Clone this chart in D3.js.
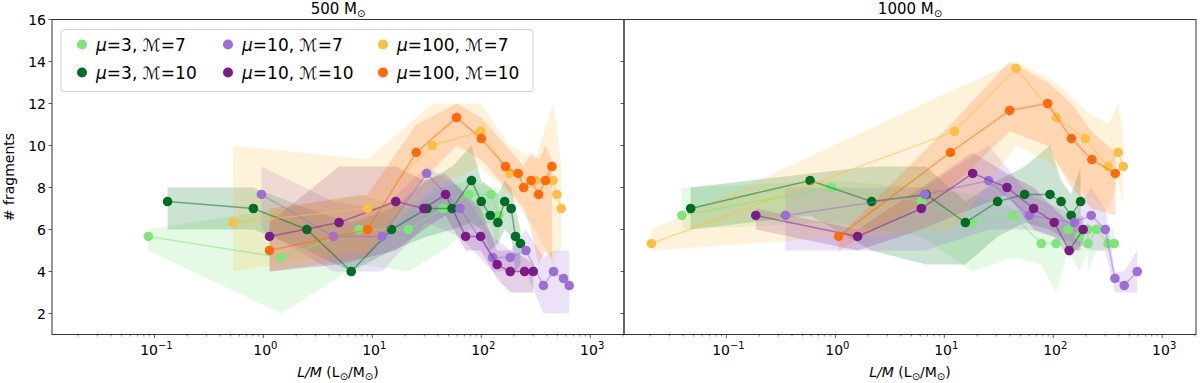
<!DOCTYPE html>
<meta charset="utf-8">
<script src="https://d3js.org/d3.v7.min.js"></script>
<style>
  body { margin: 0; background: #fff; }
  text { font-family: "DejaVu Sans", sans-serif; fill: #000; }
</style>
<div id="chart"></div>
<script>

// rows: [L/M, # fragments, lower, upper]
// --- 500 Msun ---
var mu3M7_500 = [[0.088, 5.67, 5.0, 6.0], [1.46, 4.67, 2.0, 7.0], [7.55, 6.0, 4.33, 7.67], [21.4, 6.0, 4.0, 7.0],
  [44.5, 7.0, 5.0, 8.0], [77.1, 7.67, 6.0, 8.33], [122.7, 7.67, 6.33, 8.0], [145, 6.67, 5.0, 8.0]];
var mu3M10_500 = [[0.132, 7.33, 6.0, 8.0], [0.81, 7.0, 6.0, 8.0], [2.51, 6.0, 5.0, 7.0], [6.4, 4.0, 4.0, 6.33],
  [15, 6.0, 5.0, 7.0], [31.8, 7.0, 5.67, 8.33], [54, 7.0, 6.0, 9.0], [81.3, 8.33, 6.33, 10.0], [100, 7.33, 6.0, 8.33],
  [121, 6.67, 5.0, 8.0], [142, 6.33, 5.33, 7.67], [164, 7.33, 6.0, 8.33], [188, 7.0, 5.67, 8.0], [206, 5.67, 4.0, 7.0],
  [229, 5.33, 4.33, 6.0]];
var mu10M7_500 = [[0.96, 7.67, 6.0, 9.0], [4.39, 5.67, 4.0, 7.33], [12.3, 5.67, 4.0, 7.0], [31.5, 8.67, 6.33, 9.0],
  [63.8, 7.0, 5.67, 8.0], [127, 4.67, 4.0, 5.67], [184.6, 4.67, 4.0, 5.0], [257, 5.0, 4.0, 6.0], [372, 3.33, 2.0, 4.67],
  [460, 4.0, 2.0, 5.0], [569, 3.67, 2.0, 5.0], [641, 3.33, 2.0, 5.0]];
var mu10M10_500 = [[1.14, 5.67, 4.0, 6.33], [4.95, 6.33, 4.33, 9.0], [16.4, 7.33, 5.0, 9.0], [29.7, 7.0, 6.0, 8.33],
  [47, 7.67, 6.67, 8.67], [71.8, 5.67, 5.0, 7.67], [98.6, 5.67, 5.0, 7.0], [140, 4.33, 3.67, 5.0], [184.6, 4.0, 3.0, 5.0],
  [249.6, 4.0, 3.0, 4.67], [300, 4.0, 3.0, 4.33]];
var mu100M7_500 = [[0.527, 6.33, 4.0, 10.0], [9.06, 7.0, 5.0, 9.33], [35.7, 10.0, 8.0, 12.0], [98.6, 10.67, 9.0, 12.0],
  [182, 8.67, 7.67, 10.0], [315, 8.33, 6.0, 9.33], [455, 8.33, 4.33, 12.0], [494, 7.67, 5.0, 11.0], [542, 7.0, 5.0, 9.0]];
var mu100M10_500 = [[1.14, 5.0, 4.0, 7.0], [9.06, 6.0, 4.67, 7.67], [25.3, 9.67, 8.0, 11.0], [59.4, 11.33, 10.0, 12.0],
  [100, 10.33, 9.33, 11.33], [167, 9.0, 8.0, 10.0], [218, 8.67, 7.33, 9.33], [245, 8.0, 7.0, 9.0], [287, 8.33, 6.0, 9.67],
  [336, 7.67, 4.33, 9.33], [389, 8.33, 5.0, 10.0], [445, 9.0, 4.67, 9.33]];

// --- 1000 Msun ---
var mu3M7_1000 = [[0.039, 6.67, 6.0, 8.0], [0.92, 8.0, 6.33, 8.33], [6.15, 7.33, 5.67, 8.0], [18, 6.33, 4.0, 7.67],
  [43, 6.67, 4.67, 7.0], [77.6, 5.33, 4.33, 6.33], [106, 5.33, 3.0, 6.0], [137, 6.0, 5.0, 6.33], [174, 5.67, 4.0, 6.0],
  [206.5, 6.0, 5.0, 6.33], [209, 5.33, 4.0, 6.0], [248, 6.0, 5.0, 6.33], [318, 5.33, 5.0, 6.0], [363, 5.33, 5.0, 6.0]];
var mu3M10_1000 = [[0.047, 7.0, 6.0, 8.0], [0.586, 8.33, 6.67, 8.67], [2.15, 7.33, 5.0, 9.0], [6.8, 7.67, 4.33, 9.0],
  [15.6, 6.33, 4.33, 7.33], [30.8, 7.33, 5.67, 8.33], [54.6, 7.67, 6.33, 9.0], [93.3, 7.67, 6.0, 10.0],
  [118, 7.33, 5.67, 8.33], [146, 6.67, 5.0, 7.67], [178, 7.33, 5.0, 9.0]];
var mu10M7_1000 = [[0.348, 6.67, 5.0, 8.0], [6.6, 7.67, 5.0, 8.0], [25.5, 8.33, 6.0, 10.0], [60.2, 6.67, 6.0, 7.67],
  [156, 6.33, 5.33, 6.67], [223, 6.67, 5.0, 8.0], [300, 6.0, 5.0, 7.0], [368, 3.67, 3.0, 4.0], [448, 3.33, 3.0, 4.0],
  [590, 4.0, 3.0, 5.0]];
var mu10M10_1000 = [[0.186, 6.67, 6.0, 7.0], [1.6, 5.67, 5.0, 6.0], [6.15, 7.0, 6.0, 8.0], [18.2, 8.67, 7.0, 9.67],
  [37.6, 8.0, 7.67, 8.67], [66, 7.0, 6.0, 8.0], [102, 6.33, 5.67, 7.0], [140, 5.0, 4.67, 6.33], [188, 6.0, 5.33, 6.67]];
var mu100M7_1000 = [[0.0205, 5.33, 5.0, 6.0], [12.4, 10.67, 6.0, 12.67], [45.5, 13.67, 10.0, 14.0], [107, 11.33, 9.0, 13.0],
  [197, 10.33, 7.67, 11.67], [318, 9.0, 7.0, 11.0], [394, 9.67, 8.33, 12.0], [439, 9.0, 7.0, 10.67]];
var mu100M10_1000 = [[1.07, 5.67, 5.0, 5.67], [11.4, 9.67, 8.0, 11.0], [39.8, 11.67, 10.67, 14.0], [88.7, 12.0, 10.0, 13.0],
  [147, 10.33, 8.0, 12.0], [226, 9.33, 7.0, 10.67], [371, 8.67, 6.67, 9.67]];

var panelMasses = ["500", "1000"];
var seriesMu = ["3", "3", "10", "10", "100", "100"];
var seriesMach = ["7", "10", "7", "10", "7", "10"];
var seriesColors = ["#7fe57a", "#006d22", "#9c6fd6", "#7b1b85", "#fbbf45", "#ff6a0d"];
var panelData = [
  [mu3M7_500, mu3M10_500, mu10M7_500, mu10M10_500, mu100M7_500, mu100M10_500],
  [mu3M7_1000, mu3M10_1000, mu10M7_1000, mu10M10_1000, mu100M7_1000, mu100M10_1000]
];
var xMajor = [0.1, 1, 10, 100, 1000];
var xSup = ["\u22121", "0", "1", "2", "3"];
var yTicks = [2, 4, 6, 8, 10, 12, 14, 16];

var W = 1200, H = 383;
var margin = { top: 19.5, right: 4, bottom: 48.5, left: 52 };
var panelW = (W - margin.left - margin.right) / 2;
var plotH = H - margin.top - margin.bottom;

var svg = d3.select("#chart").append("svg")
  .attr("width", W).attr("height", H);

var x = d3.scaleLog().domain([Math.pow(10, -1.94), Math.pow(10, 3.31)]).range([0, panelW]);
var y = d3.scaleLinear().domain([1, 16]).range([plotH, 0]);

panelMasses.forEach(function (mass, p) {
  var g = svg.append("g")
    .attr("transform", "translate(" + (margin.left + p * panelW) + "," + margin.top + ")");

  var clip = "clip" + p;
  g.append("clipPath").attr("id", clip).append("rect")
    .attr("width", panelW).attr("height", plotH);
  var plot = g.append("g").attr("clip-path", "url(#" + clip + ")");

  var area = d3.area()
    .x(function (d) { return x(d[0]); })
    .y0(function (d) { return y(d[2]); })
    .y1(function (d) { return y(d[3]); });
  var line = d3.line()
    .x(function (d) { return x(d[0]); })
    .y(function (d) { return y(d[1]); });

  panelData[p].forEach(function (rows, i) {
    plot.append("path").datum(rows)
      .attr("fill", seriesColors[i]).attr("fill-opacity", 0.2)
      .attr("d", area);
  });
  panelData[p].forEach(function (rows, i) {
    plot.append("path").datum(rows)
      .attr("fill", "none").attr("stroke", seriesColors[i])
      .attr("stroke-opacity", 0.5).attr("stroke-width", 1.5)
      .attr("d", line);
    plot.selectAll(null).data(rows).enter().append("circle")
      .attr("cx", function (d) { return x(d[0]); })
      .attr("cy", function (d) { return y(d[1]); })
      .attr("r", 4.8)
      .attr("fill", seriesColors[i]);
  });

  // x axis ticks
  var minor = x.ticks().filter(function (v) {
    var l = Math.log10(v); return Math.abs(l - Math.round(l)) > 1e-6;
  });
  g.selectAll(null).data(minor).enter().append("line")
    .attr("x1", function (d) { return x(d); }).attr("x2", function (d) { return x(d); })
    .attr("y1", plotH).attr("y2", plotH + 2)
    .attr("stroke", "#333").attr("stroke-width", 0.6);
  g.selectAll(null).data(xMajor).enter().append("line")
    .attr("x1", function (d) { return x(d); }).attr("x2", function (d) { return x(d); })
    .attr("y1", plotH).attr("y2", plotH + 3.5)
    .attr("stroke", "#333").attr("stroke-width", 0.8);
  xMajor.forEach(function (v, k) {
    var t = g.append("text")
      .attr("x", x(v) + 2).attr("y", plotH + 20)
      .attr("text-anchor", "middle").attr("font-size", "14px");
    t.append("tspan").text("10");
    t.append("tspan").attr("font-size", "10px").attr("dy", -6).text(xSup[k]);
  });

  // y ticks
  g.selectAll(null).data(yTicks).enter().append("line")
    .attr("x1", -3.5).attr("x2", 0)
    .attr("y1", function (d) { return y(d); }).attr("y2", function (d) { return y(d); })
    .attr("stroke", "#333").attr("stroke-width", 0.8);
  if (p === 0) {
    g.selectAll(null).data(yTicks).enter().append("text")
      .attr("x", -6).attr("y", function (d) { return y(d); })
      .attr("dy", "0.36em").attr("text-anchor", "end").attr("font-size", "14px")
      .text(function (d) { return d; });
    g.append("text")
      .attr("transform", "translate(" + (-38) + "," + (plotH / 2) + ") rotate(-90)")
      .attr("text-anchor", "middle").attr("font-size", "14px")
      .text("# fragments");
  }

  // frame
  g.append("rect").attr("width", panelW).attr("height", plotH)
    .attr("fill", "none").attr("stroke", "#333").attr("stroke-width", 1);

  // title
  var tt = g.append("text").attr("x", panelW / 2).attr("y", -6)
    .attr("text-anchor", "middle").attr("font-size", "15px");
  tt.append("tspan").text(mass + " M");
  tt.append("tspan").attr("font-size", "10px").attr("dy", 3).text("\u2299");

  // x label
  var xl = g.append("text").attr("x", panelW / 2).attr("y", plotH + 42)
    .attr("text-anchor", "middle").attr("font-size", "14px");
  xl.append("tspan").attr("font-style", "italic").text("L/M");
  xl.append("tspan").text(" (L");
  xl.append("tspan").attr("font-size", "10px").attr("dy", 3).text("\u2299");
  xl.append("tspan").attr("dy", -3).text("/M");
  xl.append("tspan").attr("font-size", "10px").attr("dy", 3).text("\u2299");
  xl.append("tspan").attr("dy", -3).text(")");

  // legend
  if (p === 0) {
    var lg = g.append("g").attr("transform", "translate(9,10)");
    lg.append("rect").attr("width", 472).attr("height", 62).attr("rx", 3)
      .attr("fill", "#fff").attr("fill-opacity", 0.8)
      .attr("stroke", "#d0d0d0").attr("stroke-width", 1);
    var colX = [21, 167, 322];
    seriesMu.forEach(function (mu, i) {
      var cx = colX[Math.floor(i / 2)], cy = 15 + (i % 2) * 28;
      lg.append("circle").attr("cx", cx).attr("cy", cy).attr("r", 5)
        .attr("fill", seriesColors[i]);
      var t = lg.append("text").attr("x", cx + 14).attr("y", cy).attr("dy", "0.36em")
        .attr("font-size", "17px");
      t.append("tspan").attr("font-style", "italic").text("\u03bc");
      t.append("tspan").text("=" + mu + ", \u2133=" + seriesMach[i]);
    });
  }
});
</script>
